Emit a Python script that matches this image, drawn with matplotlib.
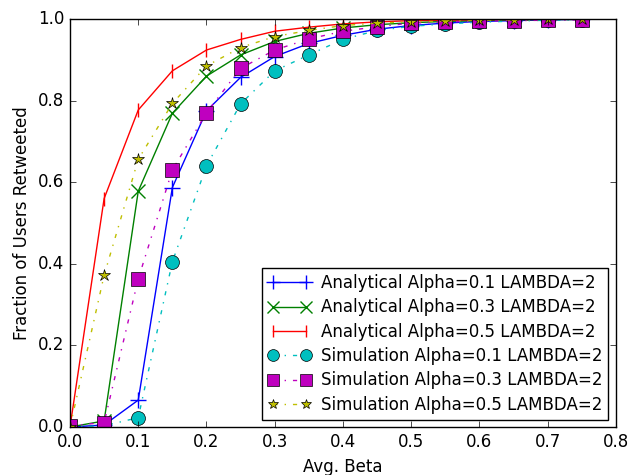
import matplotlib
matplotlib.use("Agg")
import matplotlib.pyplot as plt

plt.style.use('classic')

beta = [0.0, 0.05, 0.1, 0.15, 0.2, 0.25, 0.3, 0.35, 0.4, 0.45, 0.5, 0.55, 0.6, 0.65, 0.7, 0.75]

ana_01 = [0.0, 0.005, 0.066, 0.587, 0.775, 0.857, 0.908, 0.940, 0.960, 0.975, 0.984, 0.990, 0.994, 0.996, 0.998, 0.999]
ana_03 = [0.0, 0.015, 0.578, 0.769, 0.860, 0.912, 0.945, 0.965, 0.978, 0.986, 0.991, 0.994, 0.996, 0.998, 0.999, 0.999]
ana_05 = [0.0, 0.560, 0.777, 0.873, 0.924, 0.950, 0.970, 0.980, 0.988, 0.993, 0.996, 0.997, 0.998, 0.999, 0.999, 1.0]

sim_01 = [0.0, 0.003, 0.023, 0.405, 0.640, 0.792, 0.873, 0.912, 0.950, 0.972, 0.982, 0.988, 0.992, 0.995, 0.997, 0.998]
sim_03 = [0.003, 0.011, 0.363, 0.630, 0.770, 0.879, 0.924, 0.951, 0.970, 0.981, 0.990, 0.993, 0.995, 0.996, 0.997, 0.998]
sim_05 = [0.0, 0.372, 0.656, 0.793, 0.885, 0.930, 0.957, 0.972, 0.984, 0.990, 0.993, 0.995, 0.997, 0.998, 0.999, 0.999]

labels = ["Analytical Alpha=0.1 LAMBDA=2", "Analytical Alpha=0.3 LAMBDA=2", "Analytical Alpha=0.5 LAMBDA=2",
          "Simulation Alpha=0.1 LAMBDA=2", "Simulation Alpha=0.3 LAMBDA=2", "Simulation Alpha=0.5 LAMBDA=2"]

fig = plt.figure(figsize=(6.33, 4.75), dpi=100)
ax = fig.add_axes([0.1106, 0.101, 0.8624, 0.859])

ax.plot(beta, ana_01, 'b-', marker='+', markersize=12, mew=1, lw=1, label=labels[0])
ax.plot(beta, ana_03, 'g-', marker='x', markersize=10, mew=1, lw=1, label=labels[1])
ax.plot(beta, ana_05, 'r-', marker='|', markersize=10, mew=1, lw=1, label=labels[2])
ax.plot(beta, sim_01, 'c-.', marker='o', markersize=10, lw=1, label=labels[3])
ax.plot(beta, sim_03, 'm-.', marker='s', markersize=10, lw=1, label=labels[4])
ax.plot(beta, sim_05, 'y-.', marker='*', markersize=9, lw=1, label=labels[5])

ax.set_xlim(0, 0.8)
ax.set_ylim(0, 1.0)
ax.set_xlabel("Avg. Beta", fontsize=12)
ax.set_ylabel("Fraction of Users Retweeted", fontsize=12)
ax.tick_params(labelsize=12)
ax.legend(loc='lower right', fontsize=12, numpoints=2, handlelength=2.6, borderpad=0.35,
          labelspacing=0.38, handletextpad=0.6, markerscale=0.85, borderaxespad=0.45)

fig.savefig("out.png", dpi=100)
